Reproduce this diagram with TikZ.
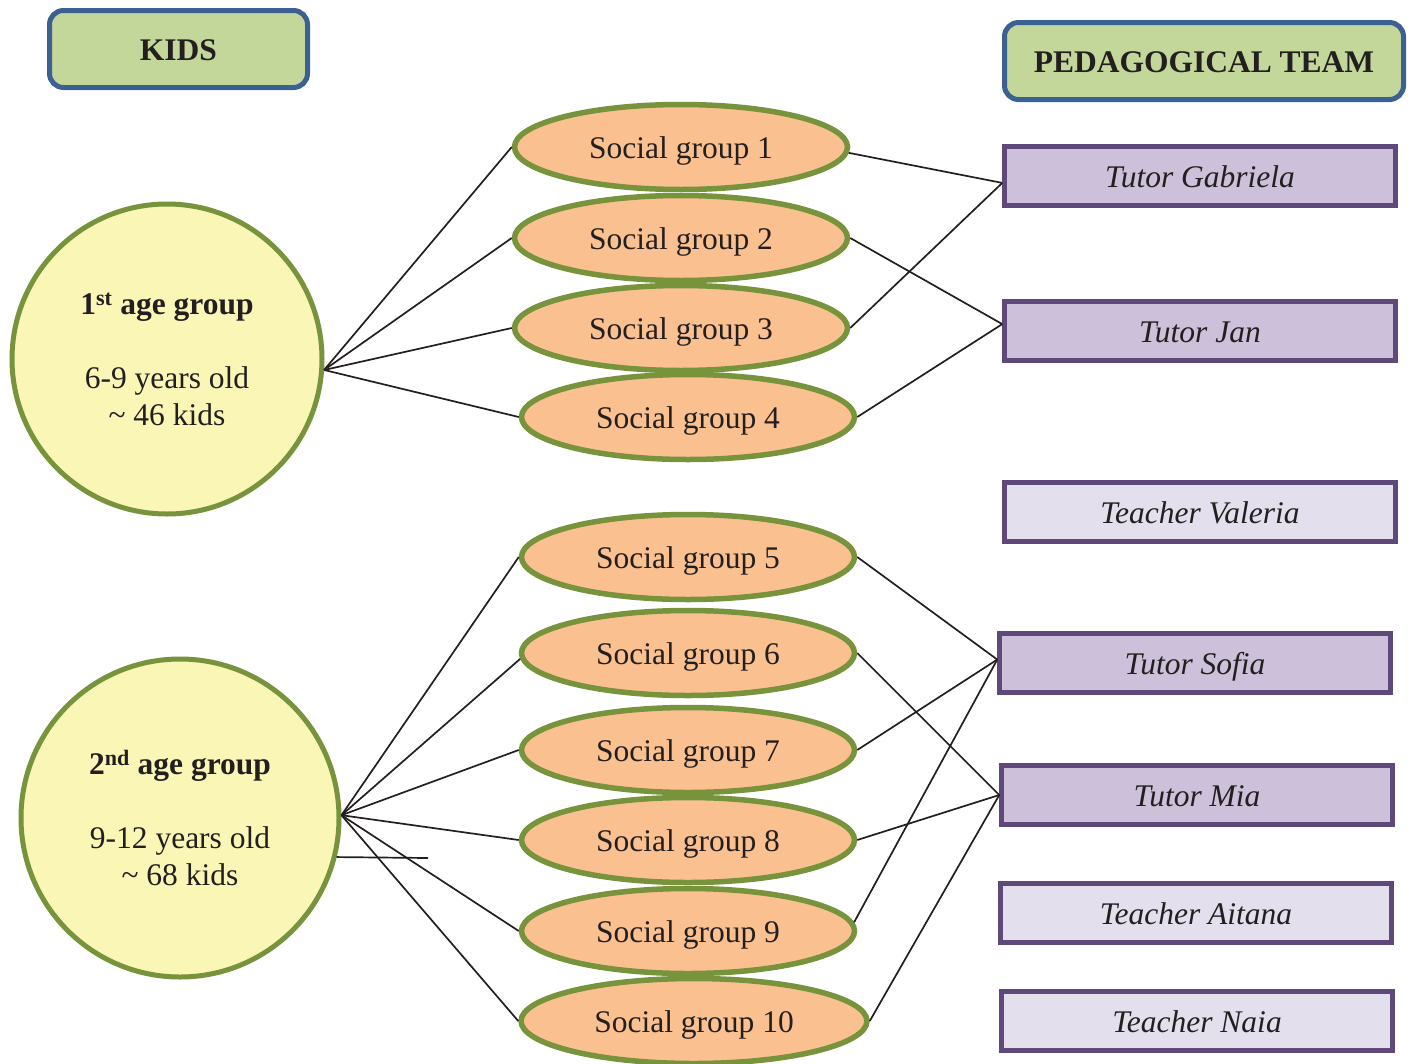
\documentclass[tikz,border=0pt]{standalone}
\usepackage{fontspec}
\setmainfont{Liberation Serif}
\usetikzlibrary{shapes.geometric}

\definecolor{hdrfill}{HTML}{C4D79B}
\definecolor{hdrline}{HTML}{3B6193}
\definecolor{agefill}{HTML}{F9F6B6}
\definecolor{grpline}{HTML}{77933C}
\definecolor{socfill}{HTML}{FAC090}
\definecolor{staffline}{HTML}{5F497A}
\definecolor{tutorfill}{HTML}{CCC0DA}
\definecolor{teachfill}{HTML}{E4DFEC}
\definecolor{inkcol}{HTML}{231F20}

\begin{document}
\begin{tikzpicture}[x=1pt,y=-1pt,
  every node/.style={text=inkcol},
  header/.style={draw=hdrline, fill=hdrfill, line width=5pt, rounded corners=14pt,
    inner sep=0pt, minimum height=77pt, text height=26pt, text depth=4pt,
    font=\fontsize{31.5}{37}\selectfont\bfseries},
  agegroup/.style={circle, draw=grpline, fill=agefill, line width=5pt, inner sep=0pt,
    align=center, font=\fontsize{31.5}{37}\selectfont},
  social/.style={ellipse, draw=grpline, fill=socfill, line width=5.5pt, inner sep=0pt,
    minimum width=333pt, minimum height=85pt, text height=26pt, text depth=4pt,
    font=\fontsize{31.5}{37}\selectfont},
  tutor/.style={rectangle, draw=staffline, fill=tutorfill, line width=4.5pt,
    minimum width=391pt, minimum height=59pt, inner sep=0pt,
    text height=26pt, text depth=4pt,
    font=\fontsize{31.5}{37}\selectfont\itshape},
  teacher/.style={tutor, fill=teachfill},
  link/.style={line width=1.7pt, draw=inkcol}
]
\useasboundingbox (0,0) rectangle (1416,1063);

% headers
\node[header, minimum width=258pt] (kids) at (178.5,49) {KIDS};
\node[header, minimum width=399pt] (team) at (1204,61) {PEDAGOGICAL TEAM};

% age groups
\node[agegroup, minimum size=310pt] (c1) at (167,359)
  {\textbf{1\textsuperscript{st} age group}\\[37pt]6-9 years old\\\textasciitilde\ 46 kids};
\node[agegroup, minimum size=318pt] (c2) at (180,818)
  {\textbf{2\textsuperscript{nd} age group}\\[37pt]9-12 years old\\\textasciitilde\ 68 kids};

% social groups
\node[social] (s1) at (681,147) {Social group 1};
\node[social] (s2) at (681,238) {Social group 2};
\node[social] (s3) at (681,328) {Social group 3};
\node[social] (s4) at (688,417) {Social group 4};
\node[social] (s5) at (688,557) {Social group 5};
\node[social] (s6) at (688,653) {Social group 6};
\node[social] (s7) at (688,750) {Social group 7};
\node[social] (s8) at (688,840) {Social group 8};
\node[social] (s9) at (688,931) {Social group 9};
\node[social, minimum width=346pt] (s10) at (694,1021) {Social group 10};

% staff
\node[tutor]   (gab) at (1200,176) {Tutor Gabriela};
\node[tutor]   (jan) at (1200,331) {Tutor Jan};
\node[teacher] (val) at (1200,512) {Teacher Valeria};
\node[tutor]   (sof) at (1195,663) {Tutor Sofia};
\node[tutor]   (mia) at (1197,795) {Tutor Mia};
\node[teacher] (ait) at (1196,913) {Teacher Aitana};
\node[teacher] (nai) at (1197,1021) {Teacher Naia};

% age group to social groups
\foreach \s in {s1,s2,s3,s4}
  \draw[link] (c1.-4) -- (\s.west);
\foreach \s in {s5,s7,s8,s9,s10}
  \draw[link] (c2.1) -- (\s.west);
\draw[link] (c2.1) -- (s6.182);
\coordinate (stub) at (428,858);
\draw[link] (c2.-14) -- (stub);

% social groups to staff
\draw[link] (s1.-2) -- (gab.182);
\draw[link] (s3.east) -- (gab.182);
\draw[link] (s2.east) -- (jan.178);
\draw[link] (s4.east) -- (jan.178);
\draw[link] (s5.east) -- (sof.179);
\draw[link] (s7.east) -- (sof.179);
\draw[link] (s9.3) -- (sof.179);
\draw[link] (s6.east) -- (mia.west);
\draw[link] (s8.east) -- (mia.west);
\draw[link] (s10.east) -- (mia.west);
\end{tikzpicture}
\end{document}
